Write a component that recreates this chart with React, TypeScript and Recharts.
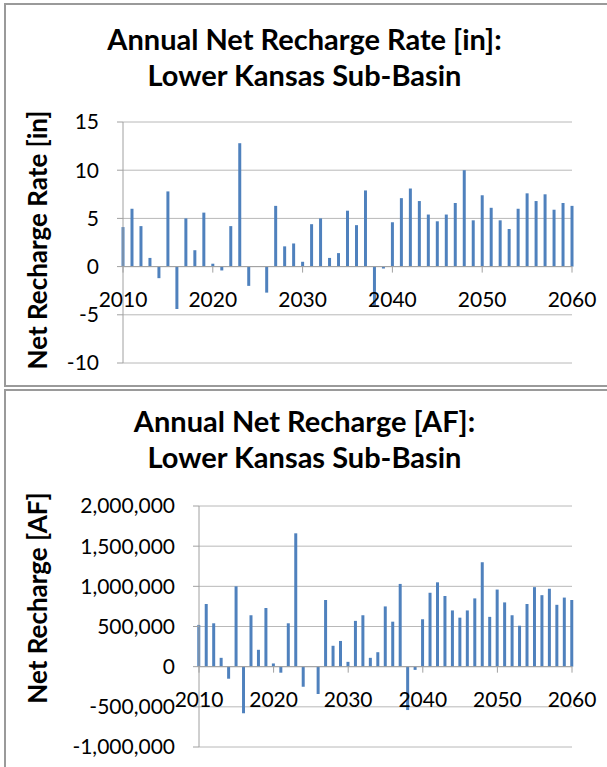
import React from "react";
import { BarChart, Bar, XAxis, YAxis, CartesianGrid, ReferenceLine } from "recharts";

// years on the x axis
const years = [
  2010, 2011, 2012, 2013, 2014, 2015, 2016, 2017, 2018, 2019,
  2020, 2021, 2022, 2023, 2024, 2025, 2026, 2027, 2028, 2029,
  2030, 2031, 2032, 2033, 2034, 2035, 2036, 2037, 2038, 2039,
  2040, 2041, 2042, 2043, 2044, 2045, 2046, 2047, 2048, 2049,
  2050, 2051, 2052, 2053, 2054, 2055, 2056, 2057, 2058, 2059,
  2060,
];

// annual net recharge rate [in]
const rateIn = [
  4.1, 6.0, 4.2, 0.9, -1.2, 7.8, -4.4, 5.0, 1.7, 5.6,
  0.3, -0.4, 4.2, 12.8, -2.0, 0, -2.7, 6.3, 2.1, 2.4,
  0.5, 4.4, 5.0, 0.9, 1.4, 5.8, 4.3, 7.9, -4.0, -0.2,
  4.6, 7.1, 8.1, 6.8, 5.4, 4.7, 5.4, 6.6, 10.0, 4.8,
  7.4, 6.1, 4.8, 3.9, 6.0, 7.6, 6.8, 7.5, 5.9, 6.6,
  6.3,
];

// annual net recharge [AF]
const rechargeAF = [
  520000, 780000, 540000, 110000, -150000, 1000000, -580000, 640000, 210000, 730000,
  40000, -75000, 540000, 1660000, -250000, 0, -340000, 830000, 260000, 320000,
  60000, 570000, 640000, 110000, 180000, 750000, 560000, 1030000, -540000, -40000,
  590000, 920000, 1050000, 880000, 700000, 610000, 700000, 850000, 1300000, 620000,
  960000, 800000, 640000, 510000, 780000, 990000, 890000, 970000, 770000, 860000,
  830000,
];

const yearTicks = [2010, 2020, 2030, 2040, 2050, 2060];
const rateTicks = [-10, -5, 0, 5, 10, 15];
const afTicks = [-1000000, -500000, 0, 500000, 1000000, 1500000, 2000000];

const rateData = years.map((y, i) => ({ year: y, value: rateIn[i] }));
const afData = years.map((y, i) => ({ year: y, value: rechargeAF[i] }));

const FONT = "Lato, 'Open Sans', sans-serif";
const AXIS = "#a0a0a0";
const GRID = "#b8b8b8";
const BLUE = "#4f81bd";
const PLOT_H = 241;

// x labels sit under the zero line, like Excel's axis crossing at 0
function YearTick(props: any) {
  const { x, y, payload, lift } = props;
  const y0 = y - lift;
  return (
    <g>
      <line x1={x} x2={x} y1={y0} y2={y0 + 6} stroke={AXIS} />
      <text x={x} y={y0 + 40} textAnchor="middle" fontSize={21} fontFamily={FONT} fill="#000">
        {payload.value}
      </text>
    </g>
  );
}

function Panel({ top, height }: { top: number; height: number }) {
  return (
    <div
      style={{
        position: "absolute", left: 4, top, width: 700, height,
        border: "2px solid #9a9a9a", boxSizing: "border-box",
      }}
    />
  );
}

function Title({ top, lines }: { top: number; lines: string[] }) {
  return (
    <div
      style={{
        position: "absolute", left: 0, top, width: 609, textAlign: "center",
        fontFamily: FONT, fontWeight: 700, fontSize: 29, lineHeight: "36px", color: "#000",
      }}
    >
      {lines.map((l) => <div key={l}>{l}</div>)}
    </div>
  );
}

function YTitle({ cx, cy, text }: { cx: number; cy: number; text: string }) {
  return (
    <div
      style={{
        position: "absolute", left: cx, top: cy, whiteSpace: "nowrap",
        transform: "translate(-50%, -50%) rotate(-90deg)",
        fontFamily: FONT, fontWeight: 700, fontSize: 26, lineHeight: "26px", color: "#000",
      }}
    >
      {text}
    </div>
  );
}

const fmtAF = (v: number) => v.toLocaleString("en-US");

export default function App() {
  return (
    <div style={{ position: "fixed", left: 0, top: 0, width: 607, height: 767, overflow: "hidden", background: "#fff" }}>
      <Panel top={3} height={384} />
      <Panel top={389} height={420} />

      <Title top={21} lines={["Annual Net Recharge Rate [in]:", "Lower Kansas Sub-Basin"]} />
      <YTitle cx={37} cy={240} text="Net Recharge Rate [in]" />
      <div style={{ position: "absolute", left: 0, top: 0 }}>
        <BarChart width={607} height={386} data={rateData} margin={{ top: 122, right: 35, bottom: 3, left: 0 }}>
          <CartesianGrid horizontal vertical={false} stroke={GRID} />
          <XAxis
            dataKey="year" type="number" domain={[2010, 2060]} ticks={yearTicks}
            axisLine={false} tickLine={false} tickSize={0} tickMargin={0} height={20}
            tick={(p: any) => <YearTick {...p} lift={(PLOT_H * 10) / 25} />}
          />
          <YAxis
            domain={[-10, 15]} ticks={rateTicks} width={123}
            axisLine={{ stroke: AXIS }} tickLine={{ stroke: AXIS }} tickSize={6} tickMargin={18}
            tick={{ fontSize: 21, fontFamily: FONT, fill: "#000" }}
          />
          <ReferenceLine y={0} stroke={AXIS} />
          <Bar dataKey="value" fill={BLUE} barSize={3} isAnimationActive={false} />
        </BarChart>
      </div>

      <Title top={403} lines={["Annual Net Recharge [AF]:", "Lower Kansas Sub-Basin"]} />
      <YTitle cx={37} cy={598} text="Net Recharge [AF]" />
      <div style={{ position: "absolute", left: 0, top: 386 }}>
        <BarChart width={607} height={381} data={afData} margin={{ top: 120, right: 35, bottom: 0, left: 0 }}>
          <CartesianGrid horizontal vertical={false} stroke={GRID} />
          <XAxis
            dataKey="year" type="number" domain={[2010, 2060]} ticks={yearTicks}
            axisLine={false} tickLine={false} tickSize={0} tickMargin={0} height={20}
            tick={(p: any) => <YearTick {...p} lift={(PLOT_H * 1000000) / 3000000} />}
          />
          <YAxis
            domain={[-1000000, 2000000]} ticks={afTicks} width={199} tickFormatter={fmtAF}
            axisLine={{ stroke: AXIS }} tickLine={{ stroke: AXIS }} tickSize={6} tickMargin={18}
            tick={{ fontSize: 21, fontFamily: FONT, fill: "#000" }}
          />
          <ReferenceLine y={0} stroke={AXIS} />
          <Bar dataKey="value" fill={BLUE} barSize={3} isAnimationActive={false} />
        </BarChart>
      </div>
    </div>
  );
}
